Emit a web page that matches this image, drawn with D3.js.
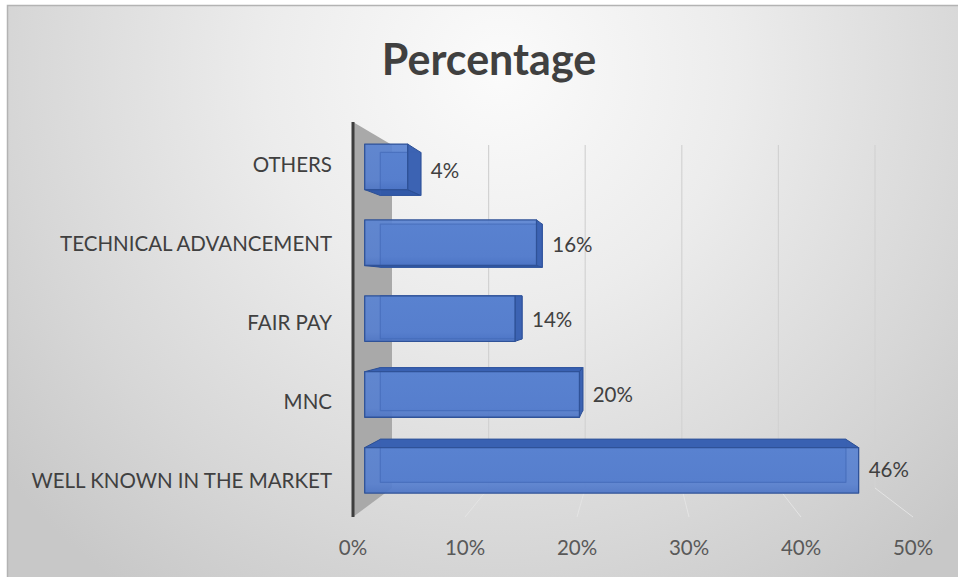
<!DOCTYPE html>
<html>
<head>
<meta charset="utf-8">
<script src="https://cdn.jsdelivr.net/npm/d3@7/dist/d3.min.js"></script>
<style>
  html, body { margin: 0; padding: 0; background: #ffffff; }
  svg { display: block; }
  text { font-family: Lato, "Open Sans", sans-serif; }
</style>
</head>
<body>
<svg id="chart" width="958" height="577"></svg>
<script>
// Chart data
const title = "Percentage";
const categories = ["OTHERS", "TECHNICAL ADVANCEMENT", "FAIR PAY", "MNC", "WELL KNOWN IN THE MARKET"];
const values = [4, 16, 14, 20, 46];
const tickValues = [0, 10, 20, 30, 40, 50];

const W = 958, H = 577;
const svg = d3.select("#chart");
const defs = svg.append("defs");

// Soft grey backdrop, brightest near the title
const bg = defs.append("radialGradient")
  .attr("id", "bgGrad")
  .attr("gradientUnits", "userSpaceOnUse")
  .attr("cx", 500).attr("cy", 70).attr("r", 640);
[[0, "#fbfbfb"], [0.37, "#ececec"], [0.75, "#d7d7d7"], [1, "#c8c8c8"]]
  .forEach(([o, c]) => bg.append("stop").attr("offset", o).attr("stop-color", c));

// Bar front face shading
const fg = defs.append("linearGradient").attr("id", "frontGrad")
  .attr("x1", 0).attr("x2", 0).attr("y1", 0).attr("y2", 1);
[[0, "#5b84d2"], [0.8, "#5880cf"], [1, "#4d75c6"]]
  .forEach(([o, c]) => fg.append("stop").attr("offset", o).attr("stop-color", c));

svg.append("rect")
  .attr("x", 7.5).attr("y", 5.5)
  .attr("width", W).attr("height", H)
  .attr("fill", "url(#bgGrad)")
  .attr("stroke", "#b3b3b3").attr("stroke-width", 1.5);

// Title
svg.append("text")
  .attr("x", 489).attr("y", 75)
  .attr("text-anchor", "middle")
  .attr("font-size", 43)
  .attr("font-weight", 700)
  .attr("fill", "#404040")
  .text(title);

// Perspective frame: value scales on the front and back planes,
// vertical position (0 = floor, 1 = top) on the same two planes.
const xFront = d3.scaleLinear().domain([0, 50]).range([353, 913]);
const xBack  = d3.scaleLinear().domain([0, 50]).range([392, 875]);
const yFront = d3.scaleLinear().domain([0, 1]).range([517, 122]);
const yBack  = d3.scaleLinear().domain([0, 1]).range([488, 145]);
const band = d3.scaleBand().domain(categories).range([1, 0])
  .paddingInner(0.4).paddingOuter(0.2);

// Depth span of the bars (0 = front plane, 1 = back plane)
const z0 = 0.3, z1 = 0.7;

function P(v, u, z) {
  return [xFront(v) * (1 - z) + xBack(v) * z,
          yFront(u) * (1 - z) + yBack(u) * z];
}
const poly = pts => "M" + pts.map(p => p.join(",")).join("L") + "Z";

// Back wall gridlines and their faint floor continuation
const grid = svg.append("g").attr("fill", "none");
tickValues.filter(v => v > 0).forEach(v => {
  grid.append("path")
    .attr("d", d3.line()([P(v, 1, 1), P(v, 0, 1)]))
    .attr("stroke", "#d2d2d2").attr("stroke-width", 1.2);
  grid.append("path")
    .attr("d", d3.line()([P(v, 0, 1), P(v, 0, 0)]))
    .attr("stroke", "#e4e4e4").attr("stroke-width", 1);
});

// Left wall
svg.append("path")
  .attr("d", poly([P(0, 1, 0), P(0, 1, 1), P(0, 0, 1), P(0, 0, 0)]))
  .attr("fill", "#a9a9a9");
svg.append("path")
  .attr("d", d3.line()([P(0, 1, 0), P(0, 0, 0)]))
  .attr("stroke", "#3d3d3d").attr("stroke-width", 3);

// Category labels
svg.append("g").selectAll("text")
  .data(categories)
  .join("text")
  .attr("x", 332)
  .attr("y", d => yFront(band(d) + band.bandwidth() / 2) + 2)
  .attr("text-anchor", "end")
  .attr("dominant-baseline", "central")
  .attr("font-size", 20.5)
  .attr("fill", "#404040")
  .text(d => d);

// Value axis labels along the front edge
svg.append("g").selectAll("text")
  .data(tickValues)
  .join("text")
  .attr("x", d => xFront(d))
  .attr("y", 555)
  .attr("text-anchor", "middle")
  .attr("font-size", 20.5)
  .attr("fill", "#595959")
  .text(d => d + "%");

// 3D bars
const barsG = svg.append("g");
categories.forEach((c, i) => {
  const v = values[i];
  const u1 = band(c) + band.bandwidth();
  const u0 = band(c);
  const g = barsG.append("g").attr("stroke-linejoin", "round");

  const back = [P(0, u1, z1), P(v, u1, z1), P(v, u0, z1), P(0, u0, z1)];
  const front = [P(0, u1, z0), P(v, u1, z0), P(v, u0, z0), P(0, u0, z0)];

  g.append("path").attr("d", poly(back))
    .attr("fill", "#3f67b6").attr("stroke", "#2c4f94").attr("stroke-width", 1);

  // top / bottom / right faces, only where they face the viewer
  if (P(v, u1, z1)[1] < P(v, u1, z0)[1]) {
    g.append("path")
      .attr("d", poly([P(0, u1, z0), P(v, u1, z0), P(v, u1, z1), P(0, u1, z1)]))
      .attr("fill", "#3961b2").attr("stroke", "#2c4f94").attr("stroke-width", 1);
  }
  if (P(v, u0, z1)[1] > P(v, u0, z0)[1]) {
    g.append("path")
      .attr("d", poly([P(0, u0, z0), P(v, u0, z0), P(v, u0, z1), P(0, u0, z1)]))
      .attr("fill", "#3259a8").attr("stroke", "#2c4f94").attr("stroke-width", 1);
  }
  if (P(v, u0, z1)[0] > P(v, u0, z0)[0]) {
    g.append("path")
      .attr("d", poly([P(v, u1, z0), P(v, u1, z1), P(v, u0, z1), P(v, u0, z0)]))
      .attr("fill", "#3c63b3").attr("stroke", "#2c4f94").attr("stroke-width", 1);
  }

  g.append("path").attr("d", poly(front))
    .attr("fill", "url(#frontGrad)").attr("fill-opacity", 0.93);
  // hidden back edges show faintly through the face
  g.append("path").attr("d", poly(back))
    .attr("fill", "none").attr("stroke", "#3c62b0").attr("stroke-opacity", 0.45).attr("stroke-width", 1.2);
  g.append("path").attr("d", poly(front))
    .attr("fill", "none").attr("stroke", "#2f5298").attr("stroke-width", 1.3);

  // value label
  const uc = band(c) + band.bandwidth() / 2;
  const lx = Math.max(P(v, uc, z0)[0], P(v, uc, z1)[0]) + 10;
  svg.append("text")
    .attr("x", lx)
    .attr("y", P(v, uc, 0.4)[1] + 1)
    .attr("dominant-baseline", "central")
    .attr("font-size", 20.5)
    .attr("fill", "#404040")
    .text(v + "%");
});
</script>
</body>
</html>
